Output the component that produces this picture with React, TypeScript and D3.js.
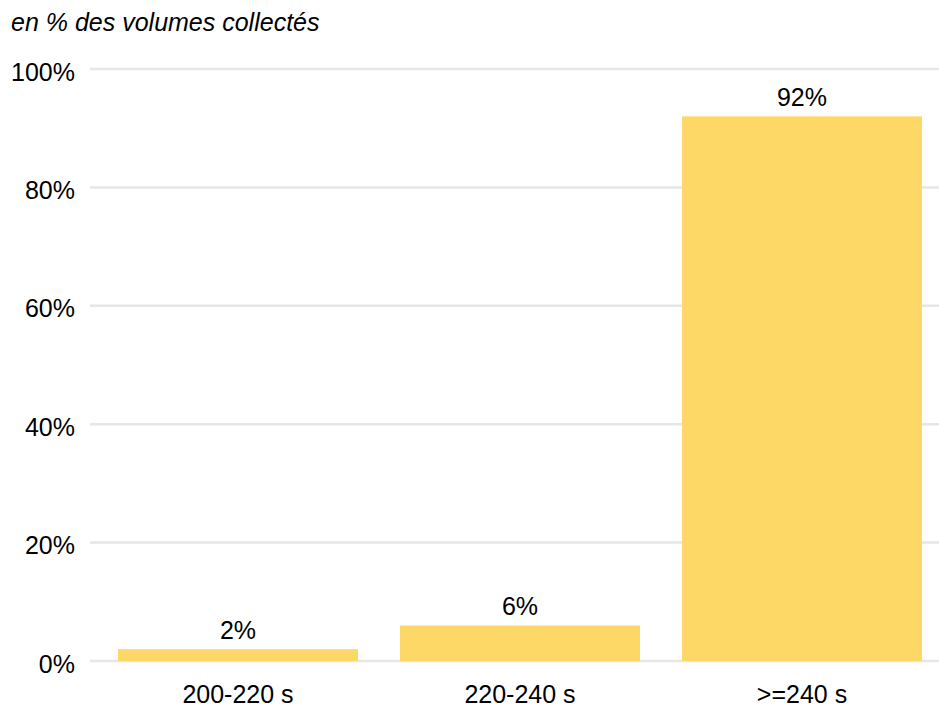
import React from "react";
import * as d3 from "d3";

const categories = ["200-220 s", "220-240 s", ">=240 s"];
const shares = [2, 6, 92];
const yTicks = [0, 20, 40, 60, 80, 100];
const subtitle = "en % des volumes collectés";

const W = 939;
const H = 707;
const FONT = "'Liberation Sans', Arial, sans-serif";
const FS = 25;

export default function App() {
  const x = d3
    .scaleBand<string>()
    .domain(categories)
    .range([97, 943])
    .paddingInner(0.149)
    .paddingOuter(0.0745);
  const y = d3.scaleLinear().domain([0, 100]).range([661, 69]);

  return (
    <svg
      width={W}
      height={H}
      style={{ position: "absolute", left: 0, top: 0, background: "#fff" }}
      fontFamily={FONT}
    >
      <text x={11} y={30.5} fontSize={FS} fontStyle="italic" fill="#000">
        {subtitle}
      </text>
      {yTicks.map((t) => (
        <g key={t}>
          <line x1={90} x2={939} y1={y(t)} y2={y(t)} stroke="#e6e6e6" strokeWidth={2.5} />
          <text x={75} y={y(t) + 11.5} fontSize={FS} textAnchor="end" fill="#000">
            {t}%
          </text>
        </g>
      ))}
      {categories.map((c, i) => (
        <g key={c}>
          <rect
            x={x(c)}
            y={y(shares[i])}
            width={x.bandwidth()}
            height={y(0) - y(shares[i])}
            fill="#fdd866"
          />
          <text
            x={(x(c) as number) + x.bandwidth() / 2}
            y={y(shares[i]) - 10}
            fontSize={FS}
            textAnchor="middle"
            fill="#000"
          >
            {shares[i]}%
          </text>
          <text
            x={(x(c) as number) + x.bandwidth() / 2}
            y={703}
            fontSize={FS}
            textAnchor="middle"
            fill="#000"
          >
            {c}
          </text>
        </g>
      ))}
    </svg>
  );
}
